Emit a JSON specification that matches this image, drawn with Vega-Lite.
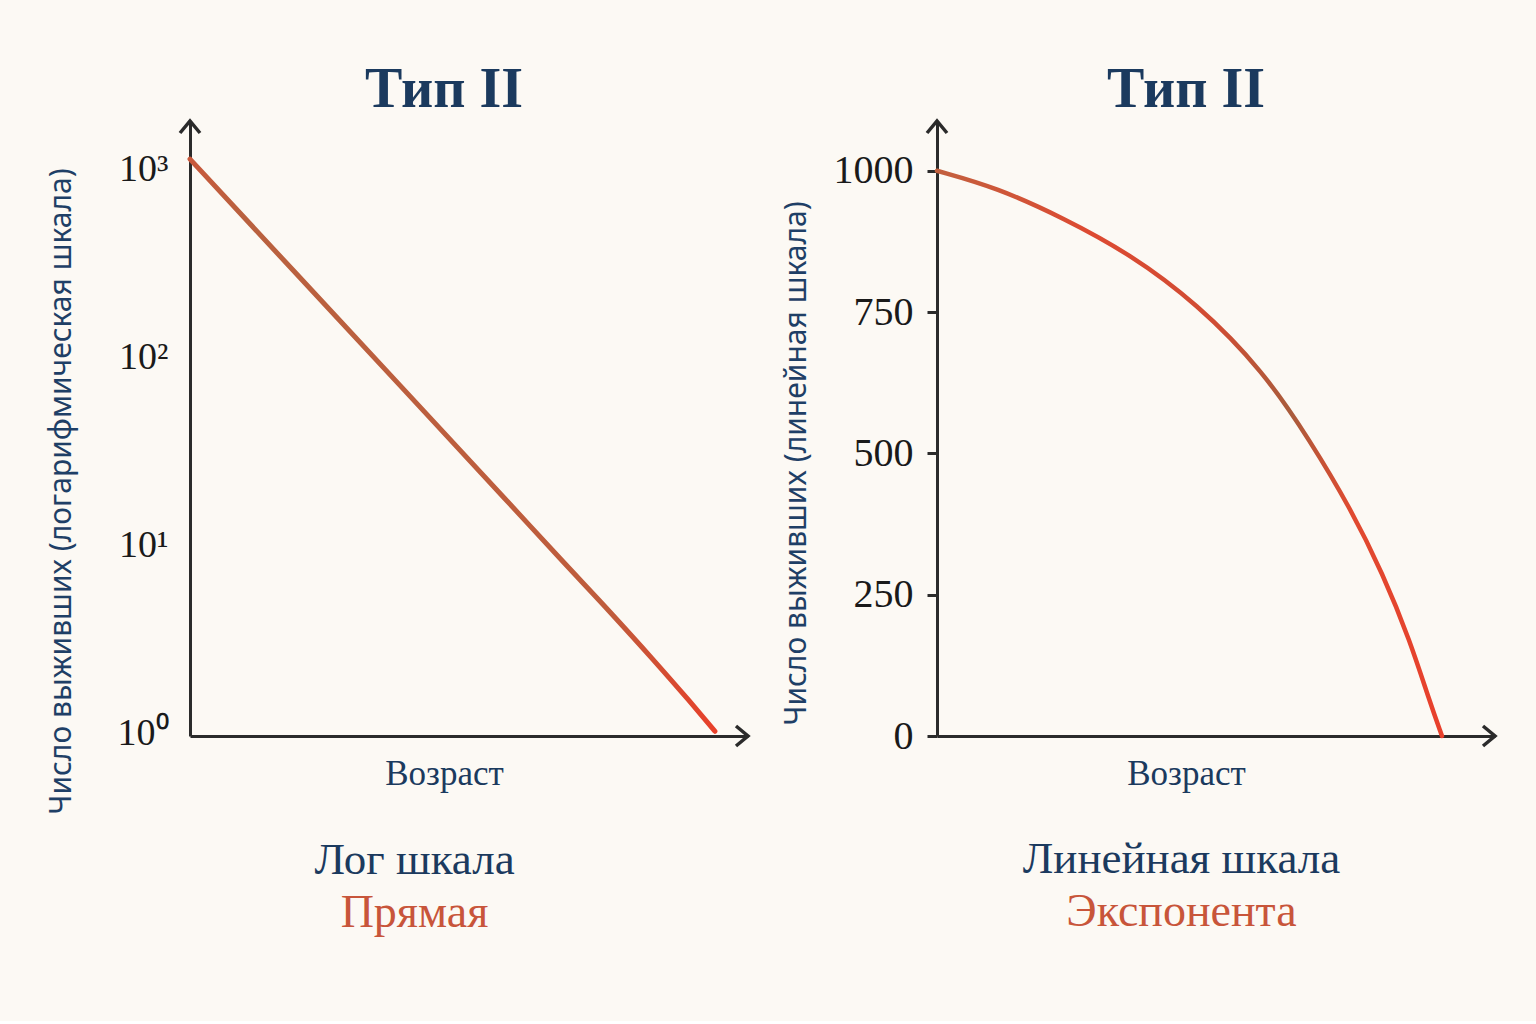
{
  "$schema": "https://vega.github.io/schema/vega-lite/v6.json",
  "background": "#fcf9f4",
  "padding": {"left": 46, "top": 62, "right": 38, "bottom": 84},
  "config": {"view": {"stroke": null}, "font": "Liberation Serif", "concat": {"spacing": 26}},
  "datasets": {
    "logLine": [
      {"age": 0, "n": 1172}, {"age": 20, "n": 293}, {"age": 40, "n": 73.3}, {"age": 60, "n": 18.3},
      {"age": 71, "n": 8.5}, {"age": 80, "n": 4.57}, {"age": 88, "n": 2.59}, {"age": 95, "n": 1.55}, {"age": 100, "n": 1.06}
    ],
    "logUp": [{"age": 0, "n": 1870}],
    "logRight": [{"age": 106.3, "n": 1}],
    "linLine": [
      {"age": 0, "n": 1000}, {"age": 11.9, "n": 970}, {"age": 24.9, "n": 917}, {"age": 38.2, "n": 853},
      {"age": 51.5, "n": 765}, {"age": 64.6, "n": 646}, {"age": 73.9, "n": 522}, {"age": 81.8, "n": 404},
      {"age": 88.3, "n": 287}, {"age": 93.7, "n": 168}, {"age": 97.6, "n": 60}, {"age": 100, "n": 0}
    ],
    "linUp": [{"age": 0, "n": 1088}],
    "linRight": [{"age": 110.5, "n": 0}]
  },
  "hconcat": [
    {
      "title": {"text": "Лог шкала", "subtitle": "Прямая", "orient": "bottom", "anchor": "middle", "font": "Liberation Serif", "fontSize": 45, "fontWeight": "normal", "color": "#1b3a5e", "subtitleFont": "Liberation Serif", "subtitleFontSize": 46, "subtitleColor": "#c8553a", "offset": 24, "subtitlePadding": 8, "dx": 14},
      "vconcat": [
        {
          "width": 558,
          "height": 615,
          "title": {"text": "Тип II", "font": "Liberation Serif", "fontSize": 56, "fontWeight": "bold", "color": "#1b3a5e", "anchor": "middle", "dx": -25, "offset": -5},
          "layer": [
            {
              "data": {"name": "logLine"},
              "mark": {"type": "line", "strokeWidth": 5, "strokeCap": "round", "interpolate": "monotone",
                "color": {"gradient": "linear", "x1": 0, "y1": 0, "x2": 1, "y2": 0,
                  "stops": [{"offset": 0, "color": "#c9583b"}, {"offset": 0.1, "color": "#b9613f"}, {"offset": 0.8, "color": "#bf5c3c"}, {"offset": 0.92, "color": "#d84a30"}, {"offset": 1, "color": "#e8402a"}]}},
              "encoding": {
                "x": {"field": "age", "type": "quantitative", "scale": {"domain": [0, 106.3], "nice": false},
                  "axis": {"title": "Возраст", "labels": false, "ticks": false, "grid": false, "domainColor": "#2b2b2b", "domainWidth": 3,
                    "titleFont": "Liberation Serif", "titleFontSize": 35, "titleFontWeight": "normal", "titleColor": "#1b3a5e", "titlePadding": 20, "titleX": 254}},
                "y": {"field": "n", "type": "quantitative", "scale": {"type": "log", "domain": [1, 1870], "nice": false},
                  "axis": {"title": "Число выживших (логарифмическая шкала)", "values": [1, 10, 100, 1000],
                    "labelExpr": "'10' + (datum.value >= 1000 ? '³' : datum.value >= 100 ? '²' : datum.value >= 10 ? '¹' : '⁰')",
                    "ticks": false, "tickSize": 0, "grid": false, "domainColor": "#2b2b2b", "domainWidth": 3,
                    "labelFont": "Liberation Serif", "labelFontSize": 38, "labelColor": "#1a1a1a", "labelPadding": 22, "labelOffset": -3,
                    "titleFont": "Noto Sans", "titleFontSize": 30, "titleFontWeight": "normal", "titleColor": "#1f3f66", "titlePadding": 41, "titleY": 370}}
              }
            },
            {
              "data": {"name": "logUp"},
              "mark": {"type": "point", "shape": "M-1,1.2L0,0L1,1.2", "size": 400, "filled": false, "stroke": "#2b2b2b", "strokeWidth": 3.5, "opacity": 1},
              "encoding": {"x": {"field": "age", "type": "quantitative"}, "y": {"field": "n", "type": "quantitative"}}
            },
            {
              "data": {"name": "logRight"},
              "mark": {"type": "point", "shape": "M-1.2,-1L0,0L-1.2,1", "size": 400, "filled": false, "stroke": "#2b2b2b", "strokeWidth": 3.5, "opacity": 1},
              "encoding": {"x": {"field": "age", "type": "quantitative"}, "y": {"field": "n", "type": "quantitative"}}
            }
          ]
        }
      ]
    },
    {
      "title": {"text": "Линейная шкала", "subtitle": "Экспонента", "orient": "bottom", "anchor": "middle", "font": "Liberation Serif", "fontSize": 45, "fontWeight": "normal", "color": "#1b3a5e", "subtitleFont": "Liberation Serif", "subtitleFontSize": 46, "subtitleColor": "#c8553a", "offset": 46, "subtitlePadding": 8, "dx": 40},
      "vconcat": [
        {
          "width": 558,
          "height": 615,
          "title": {"text": "Тип II", "font": "Liberation Serif", "fontSize": 56, "fontWeight": "bold", "color": "#1b3a5e", "anchor": "middle", "dx": -30, "offset": -5},
          "layer": [
            {
              "data": {"name": "linLine"},
              "mark": {"type": "line", "strokeWidth": 4.5, "strokeCap": "round", "interpolate": "basis",
                "color": {"gradient": "linear", "x1": 0, "y1": 0, "x2": 1, "y2": 0,
                  "stops": [{"offset": 0, "color": "#c2603e"}, {"offset": 0.3, "color": "#dd4a32"}, {"offset": 0.55, "color": "#d04c33"}, {"offset": 0.7, "color": "#a95c3c"}, {"offset": 0.82, "color": "#e04a30"}, {"offset": 1, "color": "#e8402c"}]}},
              "encoding": {
                "x": {"field": "age", "type": "quantitative", "scale": {"domain": [0, 110.5], "nice": false},
                  "axis": {"title": "Возраст", "labels": false, "ticks": false, "grid": false, "domainColor": "#2b2b2b", "domainWidth": 3,
                    "titleFont": "Liberation Serif", "titleFontSize": 35, "titleFontWeight": "normal", "titleColor": "#1b3a5e", "titlePadding": 20, "titleX": 249}},
                "y": {"field": "n", "type": "quantitative", "scale": {"domain": [0, 1088], "nice": false},
                  "axis": {"title": "Число выживших (линейная шкала)", "values": [0, 250, 500, 750, 1000], "format": "d",
                    "ticks": true, "tickSize": 10, "tickWidth": 3, "tickColor": "#2b2b2b", "grid": false, "domainColor": "#2b2b2b", "domainWidth": 3,
                    "labelFont": "Liberation Serif", "labelFontSize": 40, "labelColor": "#1a1a1a", "labelPadding": 14,
                    "titleFont": "Noto Sans", "titleFontSize": 30, "titleFontWeight": "normal", "titleColor": "#1f3f66", "titlePadding": 22, "titleY": 342}}
              }
            },
            {
              "data": {"name": "linUp"},
              "mark": {"type": "point", "shape": "M-1,1.2L0,0L1,1.2", "size": 400, "filled": false, "stroke": "#2b2b2b", "strokeWidth": 3.5, "opacity": 1},
              "encoding": {"x": {"field": "age", "type": "quantitative"}, "y": {"field": "n", "type": "quantitative"}}
            },
            {
              "data": {"name": "linRight"},
              "mark": {"type": "point", "shape": "M-1.2,-1L0,0L-1.2,1", "size": 400, "filled": false, "stroke": "#2b2b2b", "strokeWidth": 3.5, "opacity": 1},
              "encoding": {"x": {"field": "age", "type": "quantitative"}, "y": {"field": "n", "type": "quantitative"}}
            }
          ]
        }
      ]
    }
  ]
}
